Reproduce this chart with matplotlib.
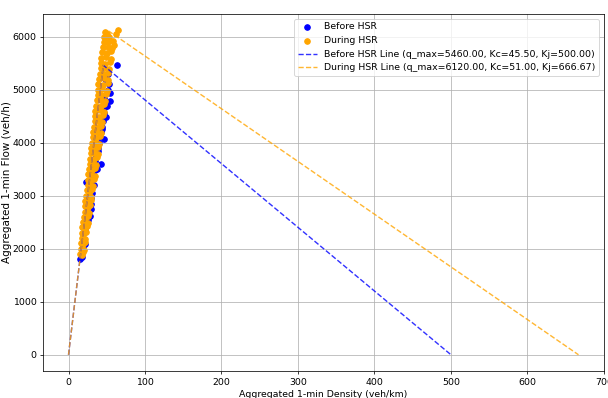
import matplotlib
matplotlib.use("Agg")
import matplotlib.pyplot as plt

# Before HSR scatter (density veh/km, flow veh/h)
before_density = [15, 17, 18, 19, 21, 19, 22, 23, 19, 24, 25, 28, 27, 26, 29, 30, 31, 28, 23, 31,
                  32, 34, 33, 35, 36, 43, 38, 40, 41, 47, 42, 44, 45, 49, 47, 46, 50, 54, 54, 52,
                  53, 48, 51, 64, 30, 33, 37, 39, 44, 46]
before_flow = [1800, 1850, 1950, 2050, 2090, 2280, 2350, 2420, 2400, 2500, 2550, 2620, 2620, 2700, 2850, 2950, 3050, 3100, 3250, 3300,
               3400, 3480, 3550, 3650, 3750, 3600, 3900, 4000, 4100, 4070, 4200, 4300, 4400, 4480, 4550, 4650, 4700, 4790, 4940, 5000,
               5100, 5200, 5300, 5460, 2750, 3200, 3500, 3850, 4250, 4850]

# During HSR scatter
during_density = [15, 17, 19, 16, 18, 20, 16, 19, 21, 17, 19, 22, 18, 20, 23, 18, 21, 24, 19, 22, 25,
                  20, 23, 26, 21, 24, 27, 22, 25, 28, 22, 26, 29, 23, 27, 30, 24, 28, 31, 25, 28, 32,
                  25, 29, 33, 26, 30, 34, 27, 31, 35, 28, 32, 36, 28, 33, 37, 29, 34, 38, 30, 35, 39,
                  31, 35, 40, 32, 36, 41, 32, 37, 42, 33, 38, 43, 34, 39, 44, 35, 40, 45, 35, 41, 46,
                  36, 42, 47, 37, 42, 48, 38, 43, 49, 38, 44, 50, 39, 45, 51, 40, 46, 52, 41, 47, 52,
                  42, 47, 53, 42, 48, 54, 43, 49, 55, 44, 50, 56, 45, 51, 57, 46, 52, 58, 47, 53,
                  62, 65, 60, 50, 48]
during_flow = [1900, 1880, 1930, 2000, 2020, 1980, 2100, 2090, 2120, 2200, 2210, 2180, 2300, 2290, 2320, 2400, 2380, 2420, 2500, 2510, 2480,
               2600, 2590, 2620, 2700, 2710, 2680, 2800, 2790, 2820, 2900, 2880, 2920, 3000, 3010, 2980, 3100, 3090, 3120, 3200, 3210, 3180,
               3300, 3290, 3320, 3400, 3410, 3380, 3500, 3490, 3520, 3600, 3610, 3580, 3700, 3690, 3720, 3800, 3810, 3780, 3900, 3890, 3920,
               4000, 4010, 3980, 4100, 4090, 4120, 4200, 4210, 4180, 4300, 4290, 4320, 4400, 4410, 4380, 4500, 4490, 4520, 4600, 4610, 4580,
               4700, 4690, 4720, 4800, 4810, 4780, 4900, 4890, 4920, 5000, 5010, 4980, 5100, 5090, 5120, 5200, 5210, 5180, 5300, 5290, 5320,
               5400, 5410, 5380, 5500, 5490, 5520, 5600, 5610, 5580, 5700, 5690, 5720, 5800, 5810, 5780, 5900, 5890, 5920, 6000, 5990,
               6050, 6120, 5850, 6050, 6080]

# Triangular fundamental diagram lines
before_line_k = [0, 45.5, 500.0]
before_line_q = [0, 5460, 0]
during_line_k = [0, 51.0, 666.67]
during_line_q = [0, 6120, 0]

DPI = 67.5
fig = plt.figure(figsize=(608 / DPI, 398 / DPI), dpi=DPI)
ax = fig.add_axes([43 / 608, 27 / 398, 561 / 608, 357 / 398])

ax.scatter(before_density, before_flow, color="blue", label="Before HSR")
ax.scatter(during_density, during_flow, color="orange", label="During HSR")
ax.plot(before_line_k, before_line_q, "--", color="blue", alpha=0.8,
        label="Before HSR Line (q_max=5460.00, Kc=45.50, Kj=500.00)")
ax.plot(during_line_k, during_line_q, "--", color="orange", alpha=0.8,
        label="During HSR Line (q_max=6120.00, Kc=51.00, Kj=666.67)")

ax.set_xlabel("Aggregated 1-min Density (veh/km)")
ax.set_ylabel("Aggregated 1-min Flow (veh/h)", fontsize=11)
ax.yaxis.set_label_coords(-0.056, 0.53)
ax.grid(True)
ax.legend(loc="upper right")

fig.savefig("out.png", dpi=DPI)
